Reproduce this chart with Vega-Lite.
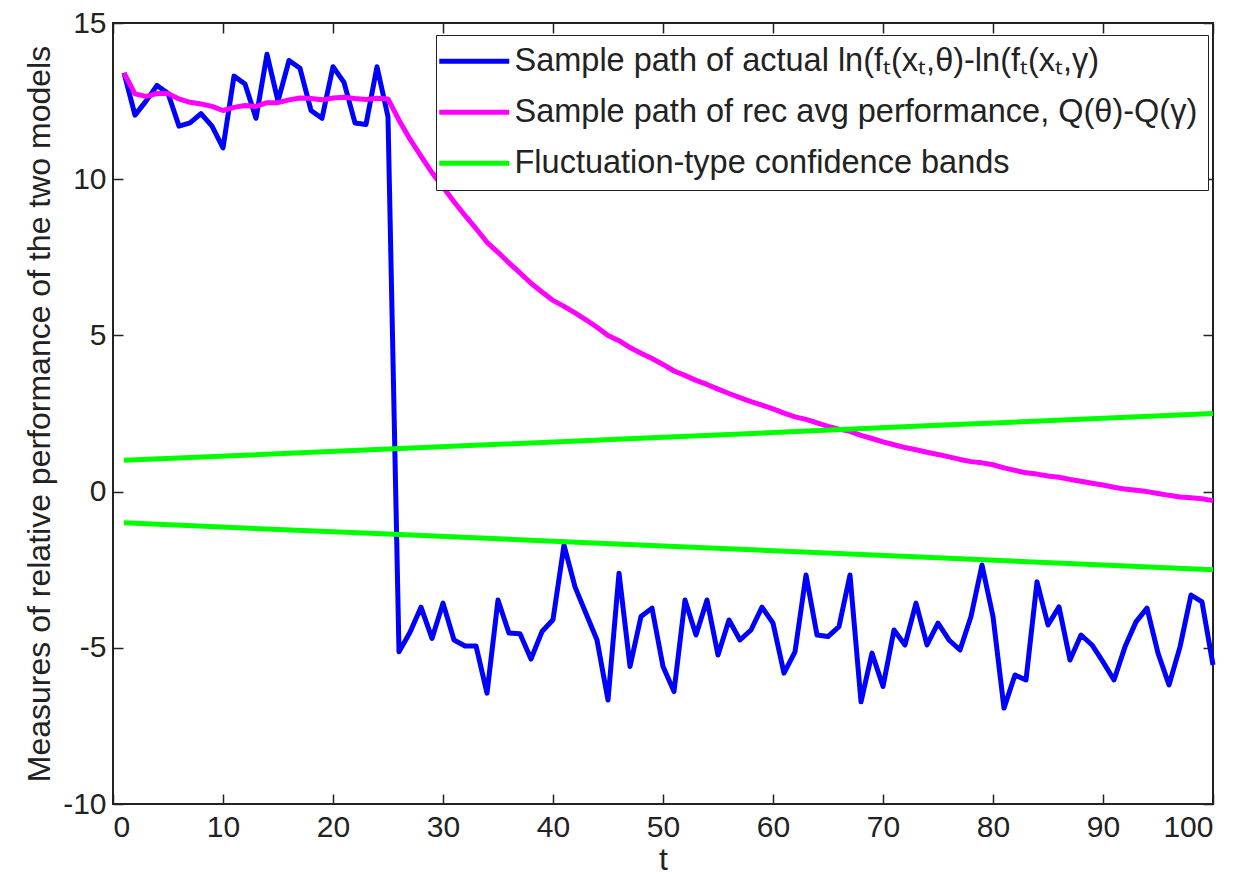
{
  "$schema": "https://vega.github.io/schema/vega-lite/v6.json",
  "width": 1100,
  "height": 781,
  "autosize": {"type": "none"},
  "padding": {"left": 113, "top": 23, "right": 34, "bottom": 71},
  "background": "white",
  "config": {
    "view": {"stroke": "#222222", "strokeWidth": 2},
    "font": "Liberation Sans",
    "axis": {
      "grid": false,
      "domain": false,
      "tickColor": "#222222",
      "tickWidth": 1.5,
      "tickSize": -10,
      "labelFontSize": 30,
      "labelColor": "#222222",
      "titleFontSize": 32,
      "titleFontWeight": "normal",
      "titleColor": "#222222"
    }
  },
  "datasets": {
    "paths": [
      {"t":1,"a":13.4,"r":13.4},{"t":2,"a":12.05,"r":12.73},{"t":3,"a":12.5,"r":12.65},{"t":4,"a":13.0,"r":12.74},{"t":5,"a":12.75,"r":12.74},
      {"t":6,"a":11.7,"r":12.57},{"t":7,"a":11.8,"r":12.46},{"t":8,"a":12.1,"r":12.41},{"t":9,"a":11.7,"r":12.33},{"t":10,"a":11.0,"r":12.2},
      {"t":11,"a":13.3,"r":12.3},{"t":12,"a":13.05,"r":12.36},{"t":13,"a":11.95,"r":12.33},{"t":14,"a":14.0,"r":12.45},{"t":15,"a":12.5,"r":12.45},
      {"t":16,"a":13.8,"r":12.54},{"t":17,"a":13.55,"r":12.6},{"t":18,"a":12.2,"r":12.58},{"t":19,"a":11.95,"r":12.54},{"t":20,"a":13.6,"r":12.6},
      {"t":21,"a":13.1,"r":12.62},{"t":22,"a":11.8,"r":12.58},{"t":23,"a":11.75,"r":12.55},{"t":24,"a":13.6,"r":12.59},{"t":25,"a":12.0,"r":12.57},
      {"t":26,"a":-5.13,"r":11.89},{"t":27,"a":-4.5,"r":11.28},{"t":28,"a":-3.7,"r":10.74},{"t":29,"a":-4.7,"r":10.21},{"t":30,"a":-3.57,"r":9.75},
      {"t":31,"a":-4.75,"r":9.28},{"t":32,"a":-4.94,"r":8.84},{"t":33,"a":-4.94,"r":8.42},{"t":34,"a":-6.45,"r":7.98},{"t":35,"a":-3.47,"r":7.66},
      {"t":36,"a":-4.53,"r":7.32},{"t":37,"a":-4.55,"r":7.0},{"t":38,"a":-5.36,"r":6.67},{"t":39,"a":-4.48,"r":6.39},{"t":40,"a":-4.1,"r":6.12},
      {"t":41,"a":-1.71,"r":5.93},{"t":42,"a":-3.05,"r":5.72},{"t":43,"a":-3.9,"r":5.5},{"t":44,"a":-4.75,"r":5.26},{"t":45,"a":-6.67,"r":5.0},
      {"t":46,"a":-2.61,"r":4.83},{"t":47,"a":-5.6,"r":4.61},{"t":48,"a":-4.0,"r":4.43},{"t":49,"a":-3.73,"r":4.26},{"t":50,"a":-5.6,"r":4.07},
      {"t":51,"a":-6.4,"r":3.86},{"t":52,"a":-3.47,"r":3.72},{"t":53,"a":-4.59,"r":3.56},{"t":54,"a":-3.47,"r":3.43},{"t":55,"a":-5.23,"r":3.28},
      {"t":56,"a":-4.11,"r":3.14},{"t":57,"a":-4.75,"r":3.01},{"t":58,"a":-4.43,"r":2.88},{"t":59,"a":-3.7,"r":2.77},{"t":60,"a":-4.21,"r":2.65},
      {"t":61,"a":-5.81,"r":2.51},{"t":62,"a":-5.13,"r":2.39},{"t":63,"a":-2.67,"r":2.31},{"t":64,"a":-4.59,"r":2.2},{"t":65,"a":-4.64,"r":2.09},
      {"t":66,"a":-4.32,"r":2.0},{"t":67,"a":-2.67,"r":1.93},{"t":68,"a":-6.73,"r":1.8},{"t":69,"a":-5.17,"r":1.7},{"t":70,"a":-6.24,"r":1.59},
      {"t":71,"a":-4.43,"r":1.5},{"t":72,"a":-4.91,"r":1.41},{"t":73,"a":-3.57,"r":1.34},{"t":74,"a":-4.91,"r":1.26},{"t":75,"a":-4.21,"r":1.19},
      {"t":76,"a":-4.75,"r":1.11},{"t":77,"a":-5.07,"r":1.03},{"t":78,"a":-4.0,"r":0.96},{"t":79,"a":-2.35,"r":0.92},{"t":80,"a":-4.0,"r":0.86},
      {"t":81,"a":-6.93,"r":0.76},{"t":82,"a":-5.87,"r":0.68},{"t":83,"a":-6.03,"r":0.6},{"t":84,"a":-2.89,"r":0.56},{"t":85,"a":-4.27,"r":0.5},
      {"t":86,"a":-3.69,"r":0.46},{"t":87,"a":-5.39,"r":0.39},{"t":88,"a":-4.59,"r":0.33},{"t":89,"a":-4.91,"r":0.27},{"t":90,"a":-5.45,"r":0.21},
      {"t":91,"a":-6.03,"r":0.14},{"t":92,"a":-4.97,"r":0.08},{"t":93,"a":-4.17,"r":0.04},{"t":94,"a":-3.73,"r":0.0},{"t":95,"a":-5.17,"r":-0.06},
      {"t":96,"a":-6.19,"r":-0.12},{"t":97,"a":-4.97,"r":-0.17},{"t":98,"a":-3.31,"r":-0.2},{"t":99,"a":-3.53,"r":-0.23},{"t":100,"a":-5.55,"r":-0.29}
    ],
    "bands": [
      {"t":1,"s":"b","g":"upper","v":1.0},{"t":25,"s":"b","g":"upper","v":1.36},{"t":50,"s":"b","g":"upper","v":1.74},{"t":75,"s":"b","g":"upper","v":2.12},{"t":100,"s":"b","g":"upper","v":2.5},
      {"t":1,"s":"b","g":"lower","v":-1.0},{"t":25,"s":"b","g":"lower","v":-1.36},{"t":50,"s":"b","g":"lower","v":-1.74},{"t":75,"s":"b","g":"lower","v":-2.12},{"t":100,"s":"b","g":"lower","v":-2.5}
    ]
  },
  "layer": [
    {
      "data": {"name": "paths"},
      "transform": [{"fold": ["a", "r"], "as": ["s", "v"]}],
      "mark": {"type": "line", "strokeWidth": 5, "strokeJoin": "round"},
      "encoding": {
        "x": {"field": "t", "type": "quantitative",
          "scale": {"domain": [0, 100], "nice": false, "zero": false},
          "axis": {"values": [0,10,20,30,40,50,60,70,80,90,100], "title": "t", "labelPadding": 18, "titlePadding": 2}},
        "y": {"field": "v", "type": "quantitative",
          "scale": {"domain": [-10, 15], "nice": false, "zero": false},
          "axis": {"values": [-10,-5,0,5,10,15], "labelExpr": "'' + datum.value", "title": "Measures of relative performance of the two models", "labelPadding": 17, "titlePadding": 6}},
        "color": {"field": "s", "type": "nominal",
          "scale": {"domain": ["a", "r", "b"], "range": ["#0000ff", "#ff00ff", "#00ff00"]},
          "legend": {
            "orient": "none", "legendX": 323, "legendY": 12, "title": null,
            "labelExpr": "datum.value == 'a' ? 'Sample path of actual ln(fₜ(xₜ,θ)-ln(fₜ(xₜ,γ)' : datum.value == 'r' ? 'Sample path of rec avg performance, Q(θ)-Q(γ)' : 'Fluctuation-type confidence bands'",
            "symbolType": "M-5,0H5", "symbolSize": 196, "symbolStrokeWidth": 5, "symbolOffset": 12,
            "labelFontSize": 32.5, "labelLimit": 0, "labelOffset": 24, "labelColor": "#222222",
            "rowPadding": 18, "padding": 10, "fillColor": "white", "strokeColor": "#222222"
          }},
        "order": {"field": "t", "type": "quantitative"}
      }
    },
    {
      "data": {"name": "bands"},
      "mark": {"type": "line", "strokeWidth": 5},
      "encoding": {
        "x": {"field": "t", "type": "quantitative", "axis": null},
        "y": {"field": "v", "type": "quantitative", "axis": null},
        "color": {"field": "s", "type": "nominal"},
        "detail": {"field": "g"}
      }
    },
    {
      "data": {"name": "bands"},
      "mark": {"type": "line", "opacity": 0},
      "encoding": {
        "x": {"field": "t", "type": "quantitative",
          "axis": {"orient": "top", "labels": false, "title": null, "values": [0,10,20,30,40,50,60,70,80,90,100]}},
        "y": {"field": "v", "type": "quantitative",
          "axis": {"orient": "right", "labels": false, "title": null, "values": [-10,-5,0,5,10,15]}},
        "detail": {"field": "g"}
      }
    }
  ],
  "resolve": {"axis": {"x": "independent", "y": "independent"}}
}
